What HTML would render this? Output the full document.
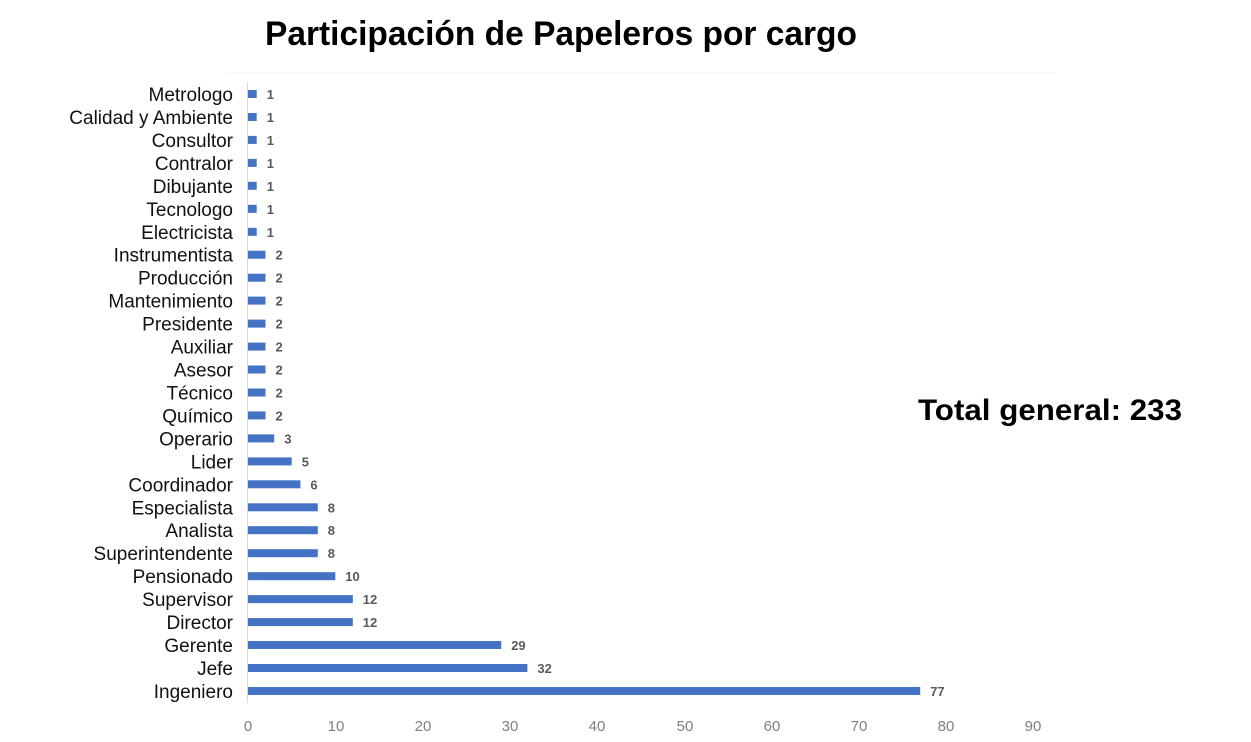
<!DOCTYPE html>
<html><head><meta charset="utf-8"><style>
html,body{margin:0;padding:0;background:#fff;width:1251px;height:742px;overflow:hidden}
svg{display:block}
.l{font-family:"Liberation Sans",sans-serif;font-size:19px;fill:#111;text-anchor:end}
.v{font-family:"Liberation Sans",sans-serif;font-size:13px;fill:#595959;font-weight:bold}
.t{font-family:"Liberation Sans",sans-serif;font-size:15px;fill:#7f7f7f;text-anchor:middle}
rect{fill:#4472c4}
</style></head><body>
<svg width="1251" height="742" xmlns="http://www.w3.org/2000/svg">
<text x="561" y="45" text-anchor="middle" font-family="Liberation Sans, sans-serif" font-weight="bold" font-size="34" fill="#000" textLength="592" lengthAdjust="spacingAndGlyphs">Participación de Papeleros por cargo</text>
<line x1="228" y1="73" x2="1055" y2="73" stroke="#f2f2f2" stroke-width="1"/>
<line x1="247.5" y1="82" x2="247.5" y2="703" stroke="#d9d9d9" stroke-width="1"/>
<g>
<text class="t" x="248" y="731">0</text><text class="t" x="336" y="731">10</text><text class="t" x="423" y="731">20</text><text class="t" x="510" y="731">30</text><text class="t" x="597" y="731">40</text><text class="t" x="685" y="731">50</text><text class="t" x="772" y="731">60</text><text class="t" x="859" y="731">70</text><text class="t" x="946" y="731">80</text><text class="t" x="1033" y="731">90</text>
</g>
<text x="1050" y="420" text-anchor="middle" font-family="Liberation Sans, sans-serif" font-weight="bold" font-size="30" fill="#000" textLength="264" lengthAdjust="spacingAndGlyphs">Total general: 233</text>
<g>
<text class="l" x="233" y="101">Metrologo</text><rect x="248" y="90" width="8.7" height="8"/><text class="v" x="266.7" y="99">1</text>
<text class="l" x="233" y="124">Calidad y Ambiente</text><rect x="248" y="113" width="8.7" height="8"/><text class="v" x="266.7" y="122">1</text>
<text class="l" x="233" y="146.9">Consultor</text><rect x="248" y="135.9" width="8.7" height="8"/><text class="v" x="266.7" y="144.9">1</text>
<text class="l" x="233" y="169.9">Contralor</text><rect x="248" y="158.9" width="8.7" height="8"/><text class="v" x="266.7" y="167.9">1</text>
<text class="l" x="233" y="192.8">Dibujante</text><rect x="248" y="181.8" width="8.7" height="8"/><text class="v" x="266.7" y="190.8">1</text>
<text class="l" x="233" y="215.8">Tecnologo</text><rect x="248" y="204.8" width="8.7" height="8"/><text class="v" x="266.7" y="213.8">1</text>
<text class="l" x="233" y="238.8">Electricista</text><rect x="248" y="227.8" width="8.7" height="8"/><text class="v" x="266.7" y="236.8">1</text>
<text class="l" x="233" y="261.7">Instrumentista</text><rect x="248" y="250.7" width="17.5" height="8"/><text class="v" x="275.5" y="259.7">2</text>
<text class="l" x="233" y="284.7">Producción</text><rect x="248" y="273.7" width="17.5" height="8"/><text class="v" x="275.5" y="282.7">2</text>
<text class="l" x="233" y="307.6">Mantenimiento</text><rect x="248" y="296.6" width="17.5" height="8"/><text class="v" x="275.5" y="305.6">2</text>
<text class="l" x="233" y="330.6">Presidente</text><rect x="248" y="319.6" width="17.5" height="8"/><text class="v" x="275.5" y="328.6">2</text>
<text class="l" x="233" y="353.6">Auxiliar</text><rect x="248" y="342.6" width="17.5" height="8"/><text class="v" x="275.5" y="351.6">2</text>
<text class="l" x="233" y="376.5">Asesor</text><rect x="248" y="365.5" width="17.5" height="8"/><text class="v" x="275.5" y="374.5">2</text>
<text class="l" x="233" y="399.5">Técnico</text><rect x="248" y="388.5" width="17.5" height="8"/><text class="v" x="275.5" y="397.5">2</text>
<text class="l" x="233" y="422.4">Químico</text><rect x="248" y="411.4" width="17.5" height="8"/><text class="v" x="275.5" y="420.4">2</text>
<text class="l" x="233" y="445.4">Operario</text><rect x="248" y="434.4" width="26.2" height="8"/><text class="v" x="284.2" y="443.4">3</text>
<text class="l" x="233" y="468.4">Lider</text><rect x="248" y="457.4" width="43.7" height="8"/><text class="v" x="301.7" y="466.4">5</text>
<text class="l" x="233" y="491.3">Coordinador</text><rect x="248" y="480.3" width="52.4" height="8"/><text class="v" x="310.4" y="489.3">6</text>
<text class="l" x="233" y="514.3">Especialista</text><rect x="248" y="503.3" width="69.8" height="8"/><text class="v" x="327.8" y="512.3">8</text>
<text class="l" x="233" y="537.2">Analista</text><rect x="248" y="526.2" width="69.8" height="8"/><text class="v" x="327.8" y="535.2">8</text>
<text class="l" x="233" y="560.2">Superintendente</text><rect x="248" y="549.2" width="69.8" height="8"/><text class="v" x="327.8" y="558.2">8</text>
<text class="l" x="233" y="583.2">Pensionado</text><rect x="248" y="572.2" width="87.3" height="8"/><text class="v" x="345.3" y="581.2">10</text>
<text class="l" x="233" y="606.1">Supervisor</text><rect x="248" y="595.1" width="104.8" height="8"/><text class="v" x="362.8" y="604.1">12</text>
<text class="l" x="233" y="629.1">Director</text><rect x="248" y="618.1" width="104.8" height="8"/><text class="v" x="362.8" y="627.1">12</text>
<text class="l" x="233" y="652">Gerente</text><rect x="248" y="641" width="253.2" height="8"/><text class="v" x="511.2" y="650">29</text>
<text class="l" x="233" y="675">Jefe</text><rect x="248" y="664" width="279.4" height="8"/><text class="v" x="537.4" y="673">32</text>
<text class="l" x="233" y="698">Ingeniero</text><rect x="248" y="687" width="672.2" height="8"/><text class="v" x="930.2" y="696">77</text>
</g>
</svg>
</body></html>
